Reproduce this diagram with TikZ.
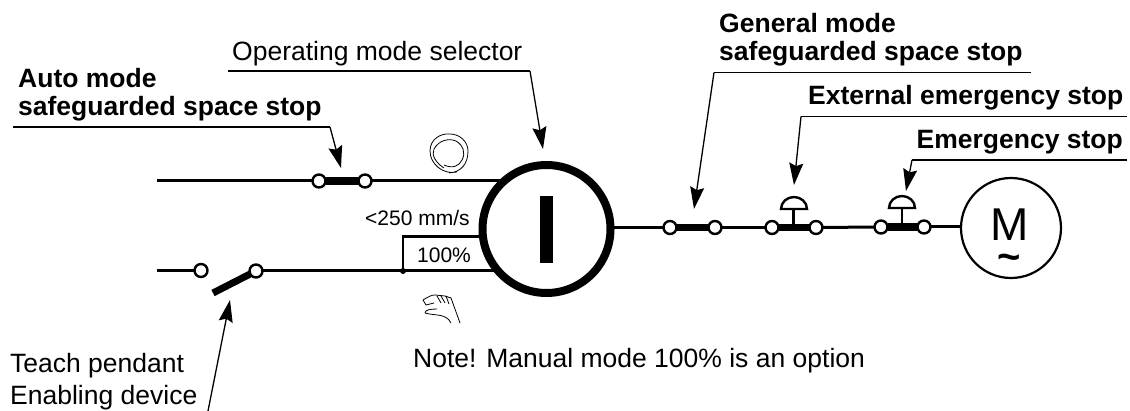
\documentclass[tikz,border=0pt]{standalone}
\usepackage{fontspec}
\setmainfont{Liberation Sans}
\usetikzlibrary{arrows.meta}
\tikzset{
  x=1pt,y=-1pt,
  wire/.style={line width=3pt},
  bridge/.style={line width=7.5pt},
  term/.style={circle,draw,fill=white,line width=2.4pt,minimum size=13pt,inner sep=0pt,outer sep=0pt},
  leader/.style={line width=1.3pt,-{Stealth[length=22pt,width=14pt,inset=3pt]}},
  rule/.style={line width=1.3pt},
  plain/.style={font=\fontsize{26.5}{28}\selectfont,inner sep=0pt,anchor=base west},
  strong/.style={font=\fontsize{26.5}{28}\selectfont\bfseries,inner sep=0pt,anchor=base west},
  small/.style={font=\fontsize{21}{23}\selectfont,inner sep=0pt,anchor=base west},
  sketch/.style={line width=0.8pt},
}
\begin{document}
\begin{tikzpicture}
\useasboundingbox (0,0) rectangle (1130,411);
% selector and motor
\node[circle,draw,line width=8pt,minimum size=128pt,inner sep=0pt,outer sep=0pt] (sel) at (546.5,229) {};
\fill (540,196) rectangle (553,263);
\node[circle,draw,line width=2.2pt,minimum size=100pt,inner sep=0pt,outer sep=0pt] (mot) at (1011,228) {};
\node[font=\fontsize{46}{46}\selectfont,inner sep=0pt,anchor=base] (mm) at (1010,240.7) {M};
\node[font=\fontsize{40}{40}\selectfont\bfseries,inner sep=0pt,anchor=base] (tl) at (1009,271) {\smash{\textasciitilde}};
% terminals
\node[term] (a1) at (319,181) {};
\node[term] (a2) at (365,181) {};
\node[term] (e1) at (201,270.5) {};
\node[term] (e2) at (256,271) {};
\node[term] (g1) at (670,227.5) {};
\node[term] (g2) at (715,227.5) {};
\node[term] (x1) at (772,227.5) {};
\node[term] (x2) at (816,227.5) {};
\node[term] (s1) at (881,227) {};
\node[term] (s2) at (924,227) {};
\coordinate (w1) at (157,181);
\coordinate (w2) at (157,270.5);
\node[circle,fill,minimum size=6pt,inner sep=0pt] (dot) at (403,271) {};
% wires
\draw[wire] (w1) -- (a1);
\draw[wire] (a2) -- (a2 -| sel.131);
\draw[wire] (w2) -- (e1);
\draw[wire] (e2) -- (e2 -| sel.221);
\draw[wire,line width=2.6pt] (dot.center) |- (sel.187);
\draw[wire] (g1 -| sel.east) -- (g1);
\draw[wire] (g2) -- (x1);
\draw[wire] (x2) -- (s1);
\draw[wire] (s2) -- (s2 -| mot.west);
% bridges
\draw[bridge] (a1) -- (a2);
\draw[bridge] (g1) -- (g2);
\draw[bridge] (x1) -- (x2);
\draw[bridge] (s1) -- (s2);
\coordinate (lev) at (213,293);
\draw[bridge,line width=7pt] (lev) -- (e2);
% push buttons
\draw[line width=2.4pt,fill=white] (781,209) arc[start angle=180,end angle=360,x radius=13,y radius=12] -- cycle;
\draw[line width=2.8pt] (793.5,209) -- (793.5,226);
\draw[line width=2.4pt,fill=white] (889,208) arc[start angle=180,end angle=360,x radius=13,y radius=12] -- cycle;
\draw[line width=2.8pt] (902,208) -- (902,226);
% texts
\node[plain] (topsel) at (232,60.7) {Operating mode selector};
\node[strong] (t1a) at (18,88) {Auto mode};
\node[strong] (t1b) at (18,116) {safeguarded space stop};
\node[strong] (t2a) at (719,33) {General mode};
\node[strong] (t2b) at (719,61) {safeguarded space stop};
\node[strong] (t3) at (808,105) {External emergency stop};
\node[strong,anchor=base east] (t4) at (1123,149) {Emergency stop};
\node[plain] (t5a) at (10,373) {Teach pendant};
\node[plain] (t5b) at (10,405) {Enabling device};
\node[plain] (note) at (413,368) {Note! Manual mode 100\% is an option};
\node[small] (spd) at (365,226) {<250 mm/s};
\node[small] (pct) at (417,263) {100\%};
% leaders
\coordinate (l1a) at (228,71); \coordinate (l1b) at (530,71); \coordinate (l1c) at (543,149);
\draw[rule] (l1a) -- (l1b);
\draw[leader] (l1b) -- (l1c);
\coordinate (l2a) at (13,127); \coordinate (l2b) at (330,127); \coordinate (l2c) at (341,168);
\draw[rule] (l2a) -- (l2b);
\draw[leader] (l2b) -- (l2c);
\coordinate (l3a) at (1031,72.5); \coordinate (l3b) at (714,72.5); \coordinate (l3c) at (694,209);
\draw[rule] (l3a) -- (l3b);
\draw[leader] (l3b) -- (l3c);
\coordinate (l4a) at (1127,116.5); \coordinate (l4b) at (801,116.5); \coordinate (l4c) at (794,185);
\draw[rule] (l4a) -- (l4b);
\draw[leader] (l4b) -- (l4c);
\coordinate (l5a) at (1127,160); \coordinate (l5b) at (912,160); \coordinate (l5c) at (906,191);
\draw[rule] (l5a) -- (l5b);
\draw[leader] (l5b) -- (l5c);
\coordinate (l6a) at (208,411); \coordinate (l6b) at (230,300);
\draw[leader] (l6a) -- (l6b);
% ring symbol
\begin{scope}[shift={(12,3)}]
\draw[sketch] (445,169) .. controls (431,172) and (418,161) .. (418,148) .. controls (418,136) and (429,130) .. (438,131)
  .. controls (447,131) and (456,138) .. (456,148) .. controls (456,160) and (450,169) .. (437,170);
\draw[sketch] (432,165) .. controls (424,160) and (419,152) .. (422,146) .. controls (427,137) and (437,135) .. (444,138)
  .. controls (451,142) and (454,150) .. (450,157) .. controls (447,163) and (441,166) .. (432,162);
\end{scope}
% hand symbol
\draw[sketch] (423,300) .. controls (428,297) and (431,295) .. (435,295) -- (445,296) -- (451,298) -- (460,323);
\draw[sketch] (423,300) -- (426,305) -- (434,303);
\draw[sketch] (425,313) .. controls (425,310) and (430,309) .. (437,309);
\draw[sketch] (425,313) .. controls (435,316) and (446,313) .. (451,323);
\draw[sketch] (437,296) -- (441,303);
\draw[sketch] (441,296) -- (445,303);
\draw[sketch] (446,296) -- (449,304);
\end{tikzpicture}
\end{document}
